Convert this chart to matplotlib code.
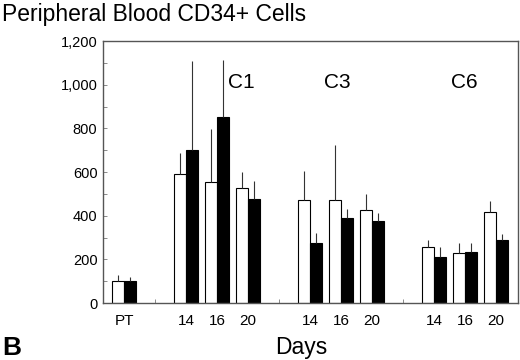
import numpy as np
import matplotlib
matplotlib.use("Agg")
import matplotlib.pyplot as plt
from matplotlib.ticker import FuncFormatter, MultipleLocator

plt.rcParams['font.family'] = ['Liberation Sans', 'DejaVu Sans']

# data
day_labels = ["PT", "14", "16", "20", "14", "16", "20", "14", "16", "20"]
positions = [0, 2, 3, 4, 6, 7, 8, 10, 11, 12]
white_vals = [100, 590, 555, 527, 472, 472, 427, 255, 228, 417]
white_err = [30, 98, 243, 74, 135, 253, 73, 34, 49, 51]
black_vals = [100, 700, 853, 475, 277, 388, 378, 213, 235, 289]
black_err = [19, 409, 260, 83, 43, 43, 33, 45, 42, 26]
groups = ["C1", "C3", "C6"]
group_x = [3.77, 6.87, 10.97]

w = 0.377
pos = np.array(positions)

fig = plt.figure(figsize=(5.2, 3.6), dpi=100)
ax = fig.add_axes([0.198, 0.158, 0.798, 0.728])

ax.bar(pos - w / 2, white_vals, w, color="white", edgecolor="black", linewidth=0.8)
ax.bar(pos + w / 2, black_vals, w, color="black", edgecolor="black", linewidth=0.8)
ax.errorbar(pos - w / 2, white_vals, yerr=[np.zeros(len(pos)), white_err],
            fmt="none", ecolor="#333333", elinewidth=0.8, capsize=0)
ax.errorbar(pos + w / 2, black_vals, yerr=[np.zeros(len(pos)), black_err],
            fmt="none", ecolor="#333333", elinewidth=0.8, capsize=0)

for g, gx in zip(groups, group_x):
    ax.text(gx, 1010, g, fontsize=15, ha="center", va="center")

ax.set_xlim(-0.68, 12.71)
ax.set_ylim(0, 1200)
ax.set_xticks(positions)
ax.set_xticklabels(day_labels, fontsize=11)
ax.set_xticks([1, 5, 9], minor=True)
ax.yaxis.set_major_locator(MultipleLocator(200))
ax.yaxis.set_minor_locator(MultipleLocator(100))
ax.yaxis.set_major_formatter(FuncFormatter(lambda v, p: f"{int(v):,}"))
ax.tick_params(axis="y", which="both", direction="in", length=3, width=0.6,
               color="#777777", labelsize=10.5, pad=4)
ax.tick_params(axis="x", which="major", length=0, labelsize=11, pad=8)
ax.tick_params(axis="x", which="minor", direction="in", length=3, width=0.6, color="#777777")
for s in ax.spines.values():
    s.set_color("#555555")
    s.set_linewidth(1.0)

fig.text(0.004, 0.992, "Peripheral Blood CD34+ Cells", fontsize=16.5, ha="left", va="top")
fig.text(0.58, 0.036, "Days", fontsize=16.5, ha="center", va="center")
fig.text(0.004, 0.033, "B", fontsize=19, fontweight="bold", ha="left", va="center")

fig.savefig("out.png", dpi=100)
